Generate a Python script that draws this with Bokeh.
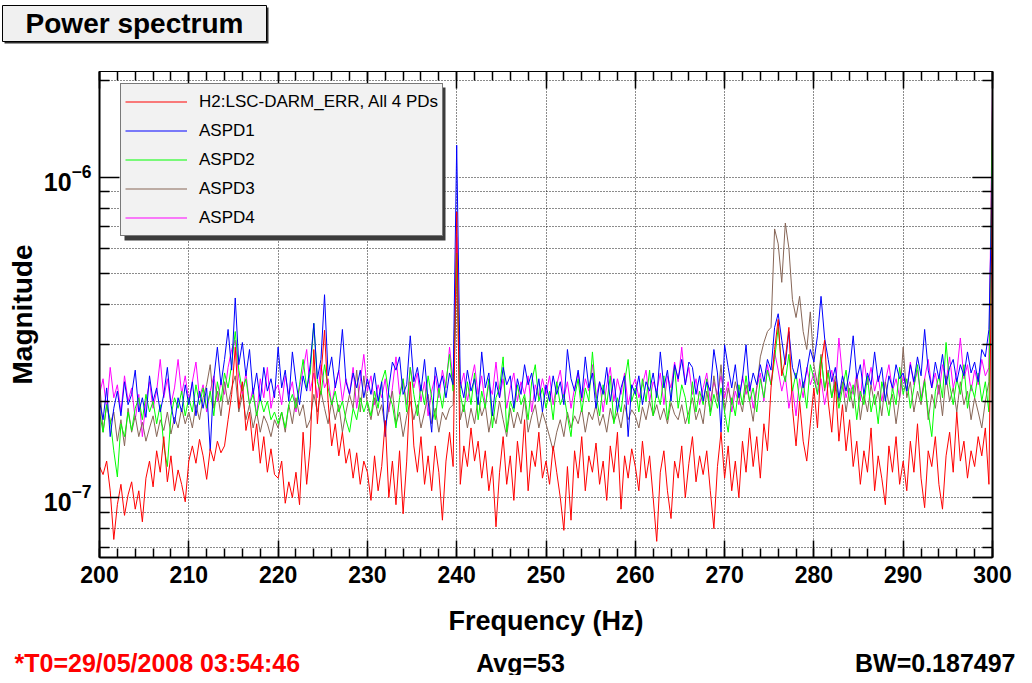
import math
from bokeh.plotting import figure
from bokeh.core.properties import value
from bokeh.models import (ColumnDataSource, Range1d, FixedTicker, SingleIntervalTicker,
                          LinearAxis, LogAxis, Legend, LegendItem, BoxAnnotation,
                          LogTickFormatter, CustomJSTickFormatter)
from bokeh.embed import file_html
from bokeh.resources import INLINE

# ---------------- data (magnitudes in units of 1e-7) ----------------
freq_start_hz = 200.0
freq_step_hz = 0.4
n_bins = 251
freq_hz = [round(freq_start_hz + freq_step_hz * i, 1) for i in range(n_bins)]

darm_err = [
    1.25, 1.18, 1.30, 1.05, 0.74, 0.95, 1.10, 0.88, 1.02, 1.12, 0.92, 1.05, 0.84, 1.15, 1.30, 1.08, 1.40, 1.20, 1.55, 1.12, 1.35, 1.05, 1.22, 1.10, 0.97,
    1.30, 1.45, 1.28, 1.52, 1.35, 1.14, 1.42, 1.30, 1.50, 1.38, 1.45, 1.75, 2.10, 2.95, 1.90, 2.30, 1.62, 1.85, 1.40, 1.70, 1.28, 1.55, 1.20, 1.42, 1.18,
    1.15, 1.30, 0.96, 1.12, 1.00, 1.20, 0.95, 1.60, 1.10, 1.45, 2.90, 1.70, 2.40, 3.33, 2.00, 1.45, 1.70, 1.35, 1.60, 1.28, 1.42, 1.15, 1.38, 1.10, 1.30,
    1.20, 0.98, 1.35, 1.05, 1.25, 1.74, 1.00, 1.30, 0.95, 1.40, 0.89, 1.30, 2.30, 1.45, 1.20, 1.55, 1.10, 1.35, 1.05, 1.45, 1.20, 0.85, 1.30, 1.60, 1.25,
    7.80, 1.10, 1.45, 1.25, 1.65, 1.30, 1.50, 1.15, 1.40, 1.05, 1.25, 0.81, 1.20, 1.55, 1.10, 1.35, 0.98, 1.50, 1.20, 1.75, 1.05, 1.40, 1.25, 1.60, 1.15,
    1.30, 1.10, 1.45, 1.20, 1.00, 0.79, 1.25, 0.85, 1.40, 1.15, 1.55, 1.05, 1.35, 1.20, 1.48, 1.10, 1.30, 0.98, 1.45, 1.20, 1.60, 0.92, 1.35, 1.15, 1.42,
    1.25, 1.05, 1.50, 1.15, 1.35, 1.00, 0.73, 1.20, 1.40, 1.05, 0.86, 1.30, 1.15, 1.45, 1.00, 1.28, 1.55, 1.12, 1.35, 1.18, 1.40, 1.05, 0.80, 1.25, 1.60,
    1.15, 1.45, 1.05, 1.30, 1.00, 1.50, 1.20, 1.65, 1.25, 1.55, 1.15, 1.70, 1.40, 2.20, 2.90, 3.60, 2.40, 2.70, 3.40, 1.90, 1.45, 2.00, 1.50, 1.30, 1.70,
    2.20, 1.65, 2.60, 3.10, 2.00, 1.60, 2.30, 1.50, 1.95, 1.40, 1.75, 1.25, 1.50, 1.10, 1.40, 1.20, 1.65, 1.05, 1.35, 1.15, 0.95, 1.45, 1.20, 1.55, 1.10,
    1.30, 1.05, 1.50, 1.20, 1.70, 1.15, 0.93, 1.40, 1.25, 1.55, 1.10, 0.92, 1.35, 1.60, 1.20, 1.85, 1.30, 1.50, 1.15, 1.40, 1.25, 1.55, 1.35, 1.65, 1.10,
    10.4,
]

aspd1 = [
    2.00, 1.75, 2.20, 1.55, 1.90, 2.15, 1.80, 2.30, 1.95, 2.10, 2.50, 1.85, 2.05, 1.78, 2.40, 2.00, 2.20, 1.85, 2.10, 2.55, 1.95, 1.70, 2.05, 1.85, 2.25,
    1.95, 2.30, 1.80, 2.15, 1.90, 2.20, 1.40, 2.35, 2.95, 2.25, 2.70, 3.35, 2.50, 4.20, 2.60, 3.05, 2.40, 2.90, 2.10, 2.45, 2.00, 2.55, 2.15, 2.35, 2.05,
    2.95, 2.20, 2.50, 2.00, 2.85, 2.30, 1.95, 2.40, 2.15, 2.60, 3.50, 2.35, 2.70, 4.30, 2.40, 2.75, 2.20, 2.50, 3.35, 2.30, 2.10, 2.45, 2.20, 2.50, 2.05,
    2.35, 2.10, 2.45, 2.00, 2.30, 1.55, 2.20, 2.65, 2.50, 2.75, 2.10, 2.25, 3.20, 2.30, 2.55, 2.15, 2.70, 2.00, 1.60, 2.55, 2.20, 2.40, 2.05, 2.45, 2.25,
    12.6, 2.30, 2.05, 2.50, 2.15, 2.35, 1.95, 2.85, 2.20, 2.45, 1.80, 2.30, 2.05, 2.55, 2.25, 2.40, 1.90, 2.35, 2.10, 2.60, 2.25, 2.45, 2.00, 2.35, 1.85,
    2.25, 2.00, 2.40, 2.10, 2.30, 1.95, 2.90, 2.35, 2.15, 2.50, 2.05, 2.75, 2.20, 2.45, 1.90, 2.30, 2.10, 2.55, 2.00, 2.35, 1.85, 2.20, 2.40, 1.55, 2.25,
    2.10, 2.40, 1.95, 2.30, 2.15, 2.45, 2.05, 2.85, 2.20, 2.50, 2.00, 2.60, 2.35, 2.70, 2.25, 2.65, 2.55, 2.10, 2.40, 2.00, 2.30, 2.15, 2.90, 2.45, 1.60,
    3.00, 2.55, 2.20, 2.60, 2.05, 2.35, 3.00, 2.15, 2.45, 2.25, 2.60, 2.30, 2.70, 2.50, 3.40, 3.75, 3.10, 2.60, 3.30, 2.55, 2.35, 2.70, 2.20, 2.50, 2.90,
    2.65, 3.20, 4.25, 3.15, 2.70, 2.30, 2.55, 2.05, 2.40, 2.15, 2.50, 3.20, 2.35, 2.60, 2.10, 2.45, 2.25, 2.85, 2.30, 2.55, 2.00, 2.40, 2.20, 2.60, 2.35,
    2.45, 2.15, 2.60, 2.30, 2.75, 2.40, 3.35, 2.50, 2.20, 2.65, 2.35, 2.80, 2.25, 2.55, 2.70, 2.30, 2.60, 2.40, 2.85, 2.45, 2.65, 2.30, 2.90, 2.75, 3.35,
    10.7,
]

aspd2 = [
    1.85, 1.60, 1.95, 1.75, 1.40, 1.16, 1.70, 1.55, 1.85, 1.62, 1.90, 2.05, 1.75, 2.10, 1.85, 2.00, 1.70, 1.95, 1.45, 1.25, 1.80, 2.05, 1.90, 2.15, 1.80,
    2.05, 1.85, 2.25, 1.95, 2.20, 1.90, 2.15, 1.80, 2.30, 2.00, 2.45, 2.20, 2.60, 3.30, 2.50, 2.15, 2.35, 1.95, 2.10, 1.80, 2.05, 1.85, 2.00, 1.75, 1.85,
    1.70, 1.85, 1.65, 1.95, 2.10, 1.90, 2.25, 2.70, 2.20, 2.45, 3.50, 2.30, 2.10, 2.60, 2.20, 1.95, 2.15, 1.85, 2.00, 1.75, 1.60, 1.90, 1.75, 2.05, 1.85,
    2.00, 1.80, 2.15, 1.90, 2.30, 2.50, 2.10, 1.95, 1.65, 2.05, 2.35, 1.85, 2.55, 2.10, 1.80, 2.25, 1.95, 2.40, 2.05, 1.75, 2.20, 1.90, 2.30, 2.80, 2.15,
    5.80, 2.10, 1.85, 2.30, 1.95, 2.45, 1.75, 2.15, 1.90, 2.35, 1.65, 2.05, 2.20, 2.75, 1.60, 2.00, 1.85, 2.25, 1.95, 2.10, 1.75, 2.30, 2.60, 2.00, 2.20,
    1.90, 2.15, 1.75, 2.30, 1.95, 2.10, 1.80, 1.55, 2.05, 2.35, 1.85, 2.20, 2.00, 2.85, 2.10, 1.80, 2.25, 1.95, 2.40, 1.70, 2.05, 1.85, 2.30, 2.70, 2.00,
    2.20, 1.85, 2.35, 2.00, 2.50, 1.80, 2.15, 1.95, 2.40, 1.75, 2.10, 2.55, 1.90, 2.25, 2.05, 1.70, 2.30, 1.85, 2.15, 1.95, 2.35, 1.80, 2.10, 1.90, 2.20,
    1.85, 1.60, 2.05, 1.80, 2.25, 1.95, 2.40, 2.00, 2.20, 1.85, 2.35, 2.05, 2.50, 2.25, 2.70, 3.40, 2.55, 2.30, 2.80, 2.15, 2.45, 2.00, 2.30, 1.90, 2.60,
    2.35, 2.10, 2.75, 2.20, 2.45, 2.05, 2.30, 1.90, 2.20, 2.50, 2.00, 2.25, 1.75, 2.15, 1.95, 2.40, 1.85, 2.10, 1.70, 2.30, 2.05, 1.80, 2.20, 1.95, 2.55,
    2.10, 2.35, 1.90, 2.20, 2.60, 2.00, 2.30, 1.85, 1.55, 2.15, 2.40, 2.05, 3.05, 2.25, 1.95, 2.35, 2.10, 2.60, 1.90, 2.25, 2.05, 2.45, 2.00, 2.30, 1.85,
    16.4,
]

aspd3 = [
    2.35, 1.60, 1.95, 1.70, 1.85, 1.50, 1.75, 1.45, 1.90, 1.60, 1.80, 1.55, 1.72, 1.50, 1.65, 1.80, 1.55, 1.75, 1.62, 1.85, 1.58, 1.78, 1.65, 1.90, 1.70,
    1.85, 1.65, 1.95, 1.75, 2.05, 2.25, 2.60, 1.90, 2.15, 1.80, 2.30, 1.95, 2.20, 2.40, 1.85, 2.10, 1.75, 1.95, 1.65, 1.85, 1.60, 1.80, 1.70, 1.55, 1.75,
    1.65, 1.85, 1.60, 1.95, 1.70, 2.05, 1.80, 1.95, 1.65, 1.75, 2.10, 1.85, 2.15, 1.90, 1.70, 2.00, 1.75, 1.95, 1.60, 1.85, 2.10, 1.90, 2.50, 1.85, 2.40,
    1.95, 1.75, 2.05, 1.80, 1.95, 1.65, 1.90, 2.15, 1.70, 1.85, 1.55, 1.80, 2.00, 1.75, 1.95, 1.65, 1.85, 2.10, 1.70, 1.90, 1.60, 1.85, 1.75, 1.90, 1.95,
    5.00, 1.75, 1.95, 1.65, 1.90, 1.70, 2.05, 1.80, 1.95, 1.60, 1.85, 1.70, 2.00, 1.75, 1.55, 1.90, 1.65, 1.85, 1.70, 2.05, 1.60, 1.80, 1.95, 1.65, 1.85,
    1.70, 1.55, 1.40, 1.60, 1.75, 1.55, 1.85, 1.65, 1.80, 1.70, 1.90, 1.60, 1.85, 1.75, 1.95, 1.68, 1.82, 1.60, 1.90, 1.72, 1.85, 1.65, 1.95, 1.75, 1.88,
    1.80, 1.65, 1.92, 1.75, 2.00, 1.80, 1.95, 1.75, 1.90, 1.70, 1.98, 1.82, 1.75, 1.95, 1.70, 1.85, 2.05, 1.75, 1.90, 1.70, 2.15, 1.85, 2.40, 2.00, 2.60,
    1.86, 2.20, 1.95, 2.30, 2.05, 1.85, 2.25, 2.00, 1.73, 2.20, 2.75, 3.05, 3.30, 3.40, 6.90, 6.20, 4.70, 7.20, 6.00, 4.15, 3.65, 4.25, 3.30, 2.90, 3.80,
    2.60, 2.25, 2.80, 2.15, 2.50, 2.05, 2.40, 2.00, 2.30, 1.85, 2.20, 1.90, 2.35, 1.75, 2.10, 1.85, 2.25, 1.95, 2.15, 1.80, 2.30, 1.95, 2.10, 1.70, 2.05,
    2.95, 2.05, 2.30, 1.85, 2.15, 1.95, 2.35, 1.75, 2.10, 1.90, 2.25, 1.80, 2.40, 2.00, 2.20, 1.85, 2.30, 1.95, 2.15, 1.75, 2.05, 1.85, 1.65, 2.00, 2.30,
    17.0,
]

aspd4 = [
    2.10, 2.35, 1.90, 2.55, 2.05, 2.25, 1.85, 2.40, 2.00, 2.20, 1.75, 2.10, 1.55, 2.00, 2.30, 1.90, 2.15, 2.70, 2.05, 2.35, 1.95, 2.20, 2.70, 2.10, 2.40,
    2.00, 2.30, 2.65, 2.05, 2.25, 1.85, 2.15, 2.40, 2.00, 2.30, 2.10, 2.55, 2.90, 3.10, 2.35, 2.10, 2.45, 1.95, 2.20, 1.80, 2.35, 2.05, 2.55, 1.90, 2.15,
    2.25, 1.95, 2.40, 2.10, 2.30, 1.85, 2.20, 2.50, 2.90, 2.15, 2.45, 2.05, 2.60, 2.20, 2.35, 1.95, 2.25, 2.50, 2.00, 2.35, 2.10, 2.55, 1.90, 2.30, 2.80,
    2.15, 2.40, 1.95, 2.25, 2.05, 2.35, 1.85, 2.20, 2.75, 2.10, 2.35, 1.95, 2.55, 2.20, 2.45, 2.00, 2.30, 1.80, 2.15, 2.40, 2.05, 2.50, 2.20, 2.95, 2.30,
    6.50, 2.20, 2.45, 2.00, 2.30, 2.60, 2.10, 2.40, 1.95, 2.25, 2.10, 2.65, 2.05, 2.35, 1.90, 2.20, 2.45, 2.00, 2.30, 2.10, 2.40, 1.85, 2.25, 2.05, 2.35,
    2.10, 2.40, 1.95, 2.25, 2.50, 2.05, 2.30, 1.90, 2.20, 2.45, 2.00, 2.35, 2.15, 2.60, 2.05, 2.30, 1.85, 2.25, 2.55, 2.00, 2.35, 2.10, 2.45, 1.95, 2.20,
    2.35, 2.05, 2.25, 2.50, 2.00, 2.30, 2.15, 2.45, 1.95, 2.40, 2.20, 2.65, 2.30, 2.95, 2.25, 2.55, 2.10, 2.35, 1.95, 2.20, 2.45, 2.00, 2.30, 2.10, 2.40,
    2.05, 2.30, 1.85, 2.15, 1.95, 2.40, 2.10, 2.30, 1.90, 2.20, 2.45, 2.00, 2.60, 2.25, 2.85, 2.50, 2.15, 2.40, 1.90, 2.20, 1.80, 2.35, 2.05, 2.55, 2.25,
    2.45, 2.10, 2.35, 1.95, 2.25, 2.50, 2.15, 3.15, 2.40, 2.05, 2.30, 2.10, 2.45, 2.00, 2.70, 2.25, 2.55, 2.15, 2.40, 2.00, 2.30, 2.60, 2.15, 2.35, 2.05,
    2.40, 2.15, 2.65, 2.25, 2.50, 2.05, 2.35, 2.70, 2.20, 2.45, 2.10, 2.60, 2.30, 2.75, 2.20, 2.45, 3.15, 2.35, 2.60, 2.15, 2.50, 2.25, 2.70, 2.40, 2.55,
    19.4,
]

value_scale = 1e-7

series_labels = ["H2:LSC-DARM_ERR, All 4 PDs", "ASPD1", "ASPD2", "ASPD3", "ASPD4"]
series_values = [darm_err, aspd1, aspd2, aspd3, aspd4]
series_colors = ["#ff0000", "#0000ff", "#00ff00", "#876657", "#ff00ff"]

y_major_ticks = [1e-7, 1e-6]
y_minor_ticks = [7e-8, 8e-8, 9e-8, 2e-7, 3e-7, 4e-7, 5e-7, 6e-7, 7e-7, 8e-7, 9e-7, 2e-6]

title_text = "Power spectrum"
footer_left = "*T0=29/05/2008 03:54:46"
footer_mid = "Avg=53"
footer_right = "BW=0.187497"

# ---------------- geometry ----------------
FONT = "Liberation Sans"
FRAME_W, FRAME_H = 893, 486
BORDER_L, BORDER_R = 99, 24
CANVAS_W = BORDER_L + FRAME_W + BORDER_R
HEAD_H, FOOT_H = 45, 28
X0, X1 = 200.0, 300.0
Y0, Y1 = 6.50e-8, 2.14e-6

def px_to_x(px):
    return X0 + px * (X1 - X0) / FRAME_W

def py_to_y(py):
    l0, l1 = math.log10(Y0), math.log10(Y1)
    return 10 ** (l0 + py * (l1 - l0) / FRAME_H)

def strip(height):
    f = figure(width=CANVAS_W, height=height, x_range=Range1d(0, CANVAS_W), y_range=Range1d(0, height),
               output_backend="svg", toolbar_location=None, min_border=0,
               x_axis_location=None, y_axis_location=None)
    f.outline_line_color = None
    f.background_fill_color = "white"
    f.border_fill_color = "white"
    f.xgrid.visible = False
    f.ygrid.visible = False
    return f

# ---------------- header: title box ----------------
head = strip(HEAD_H)
head.quad(left=[4], right=[268], bottom=[2], top=[38], fill_color="#303030", line_color=None)
head.quad(left=[2], right=[266], bottom=[4], top=[40], fill_color="#f0f0f0",
          line_color="black", line_width=1)
head.text(x=[134], y=[22], text=[title_text], text_font=value(FONT), text_font_style="bold",
          text_font_size="28px", text_color="black", text_align="center", text_baseline="middle")

# ---------------- main plot ----------------
p = figure(frame_width=FRAME_W, frame_height=FRAME_H, title=None,
           x_range=Range1d(X0, X1), y_range=Range1d(Y0, Y1),
           y_axis_type="log", output_backend="svg", toolbar_location=None,
           min_border_left=BORDER_L, min_border_right=BORDER_R,
           min_border_top=71 - HEAD_H, min_border_bottom=90)
p.background_fill_color = "white"
p.border_fill_color = "white"
p.outline_line_color = "black"
p.outline_line_width = 1

blank = CustomJSTickFormatter(code="return ''")

# bottom x axis
xax = p.xaxis[0]
xax.ticker = SingleIntervalTicker(interval=10, num_minor_ticks=5)
xax.axis_line_color = "black"
xax.axis_line_width = 2
xax.major_tick_in = 17
xax.major_tick_out = 0
xax.minor_tick_in = 9
xax.minor_tick_out = 0
xax.major_tick_line_width = 1.5
xax.minor_tick_line_width = 1.5
xax.major_label_text_font = FONT
xax.major_label_text_font_style = "bold"
xax.major_label_text_font_size = "23px"
xax.major_label_text_color = "black"
xax.major_label_standoff = 8
xax.axis_label = "Frequency (Hz)"
xax.axis_label_text_font = FONT
xax.axis_label_text_font_style = "bold"
xax.axis_label_text_font_size = "27px"
xax.axis_label_text_color = "black"
xax.axis_label_standoff = 20

# left y axis
yax = p.yaxis[0]
yax.ticker = FixedTicker(ticks=y_major_ticks, minor_ticks=y_minor_ticks)
yax.formatter = LogTickFormatter()
yax.axis_line_color = "black"
yax.axis_line_width = 2
yax.major_tick_in = 20
yax.major_tick_out = 0
yax.minor_tick_in = 10
yax.minor_tick_out = 0
yax.major_tick_line_width = 1.5
yax.minor_tick_line_width = 1.5
yax.major_label_text_font = FONT
yax.major_label_text_font_style = "bold"
yax.major_label_text_font_size = "25px"
yax.major_label_text_color = "black"
yax.major_label_standoff = 8
yax.axis_label = "Magnitude"
yax.axis_label_text_font = FONT
yax.axis_label_text_font_style = "bold"
yax.axis_label_text_font_size = "28px"
yax.axis_label_text_color = "black"
yax.axis_label_standoff = 3

# mirrored top / right axes (ticks only)
top_ax = LinearAxis(ticker=SingleIntervalTicker(interval=10, num_minor_ticks=5),
                    formatter=blank, major_label_standoff=0,
                    major_tick_in=17, major_tick_out=0, minor_tick_in=9, minor_tick_out=0,
                    major_tick_line_width=1.5, minor_tick_line_width=1.5,
                    axis_line_color="black", axis_line_width=1)
p.add_layout(top_ax, "above")
right_ax = LogAxis(ticker=FixedTicker(ticks=y_major_ticks, minor_ticks=y_minor_ticks),
                   formatter=blank, major_label_standoff=0,
                   major_tick_in=20, major_tick_out=0, minor_tick_in=10, minor_tick_out=0,
                   major_tick_line_width=1.5, minor_tick_line_width=1.5,
                   axis_line_color="black", axis_line_width=2)
p.add_layout(right_ax, "right")

# dotted grid
p.xgrid.grid_line_color = "black"
p.xgrid.grid_line_dash = "1 2"
p.xgrid.grid_line_alpha = 0.9
p.ygrid.ticker = FixedTicker(ticks=sorted(y_major_ticks + y_minor_ticks))
p.ygrid.grid_line_color = "black"
p.ygrid.grid_line_dash = "1 2"
p.ygrid.grid_line_alpha = 0.9

# traces (drawn so that the red trace ends on top)
renderers = {}
for idx in [4, 3, 2, 1, 0]:
    vals = series_values[idx]
    n = min(len(vals), len(freq_hz))
    src = ColumnDataSource(dict(f=freq_hz[:n], m=[v * value_scale for v in vals[:n]]))
    renderers[idx] = p.line("f", "m", source=src, line_color=series_colors[idx], line_width=1)

# legend with a drop shadow
legend_left, legend_bottom = 21, 321
legend_w, legend_h = 321, 153
shadow = BoxAnnotation(left=px_to_x(legend_left + 4), right=px_to_x(legend_left + legend_w + 4),
                       bottom=py_to_y(legend_bottom - 4), top=py_to_y(legend_bottom + legend_h - 4),
                       fill_color="#3c3c3c", fill_alpha=1.0, line_color=None)
p.add_layout(shadow)
legend = Legend(items=[LegendItem(label=series_labels[i], renderers=[renderers[i]]) for i in range(5)],
                location=(legend_left, legend_bottom), orientation="vertical",
                label_text_font=FONT, label_text_font_size="17px", label_text_color="black",
                glyph_width=62, glyph_height=27, label_height=27, spacing=2, padding=4,
                margin=0, label_standoff=12,
                border_line_color="black", border_line_width=1,
                background_fill_color="#f2f2f2", background_fill_alpha=1.0)
p.add_layout(legend)

# ---------------- footer: run information ----------------
foot = strip(FOOT_H)
foot_src = ColumnDataSource(dict(x=[14, 520, 1015], y=[13, 13, 13],
                                 t=[footer_left, footer_mid, footer_right],
                                 c=["#ff0000", "black", "black"],
                                 a=["left", "center", "right"]))
foot.text(x="x", y="y", text="t", text_color="c", text_align="a", source=foot_src,
          text_font=value(FONT), text_font_style="bold", text_font_size="25px",
          text_baseline="middle")

open("out.html", "w").write(file_html([head, p, foot], INLINE))
